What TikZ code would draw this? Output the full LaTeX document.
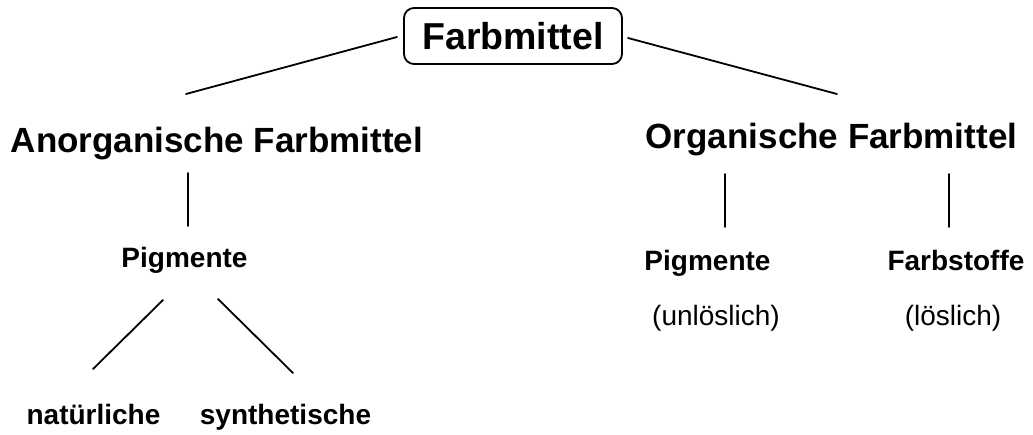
\documentclass[tikz,border=0pt]{standalone}
\usepackage{fontspec}
\setmainfont{Liberation Sans}
\begin{document}
\begin{tikzpicture}[x=1pt,y=-1pt,
  conn/.style={line width=1.8pt,line cap=round},
  rootbox/.style={draw,line width=1.8pt,rounded corners=10pt,minimum width=218pt,minimum height=56pt,inner sep=0pt,
    font=\fontsize{37.5}{44}\selectfont\bfseries,text height=27pt,text depth=0pt},
  head/.style={anchor=base,inner sep=0pt,font=\fontsize{35}{42}\selectfont\bfseries},
  sub/.style={anchor=base,inner sep=0pt,font=\fontsize{28}{34}\selectfont\bfseries},
  note/.style={anchor=base,inner sep=0pt,font=\fontsize{28}{34}\selectfont}]
\useasboundingbox (0,0) rectangle (1033,434);
\node[rootbox] (root) at (513,36) {Farbmittel};
\node[head] (ano) at (217,152) {Anorganische Farbmittel};
\node[head] (org) at (831.5,148) {Organische Farbmittel};
\node[sub] (pigL) at (184.5,267) {Pigmente};
\node[sub] (pigR) at (707.5,270) {Pigmente};
\node[sub] (fst) at (956,270) {Farbstoffe};
\node[note] (unl) at (716,325) {(unlöslich)};
\node[note] (lsl) at (953,325) {(löslich)};
\node[sub] (nat) at (93.5,424) {natürliche};
\node[sub] (syn) at (285.5,424) {synthetische};
% connector end points
\coordinate (r1) at (397,37);  \coordinate (a1) at (186,94);
\coordinate (r2) at (628,38);  \coordinate (o1) at (837,94);
\coordinate (a2) at (188,173); \coordinate (p1) at (188,226);
\coordinate (p2) at (163,300); \coordinate (n1) at (93,369);
\coordinate (p3) at (218,299); \coordinate (s1) at (293,373);
\coordinate (o2) at (725,174); \coordinate (q1) at (725,227);
\coordinate (o3) at (949,174); \coordinate (f1) at (949,227);
\draw[conn] (r1) -- (a1);
\draw[conn] (r2) -- (o1);
\draw[conn] (a2) -- (p1);
\draw[conn] (p2) -- (n1);
\draw[conn] (p3) -- (s1);
\draw[conn] (o2) -- (q1);
\draw[conn] (o3) -- (f1);
\end{tikzpicture}
\end{document}
